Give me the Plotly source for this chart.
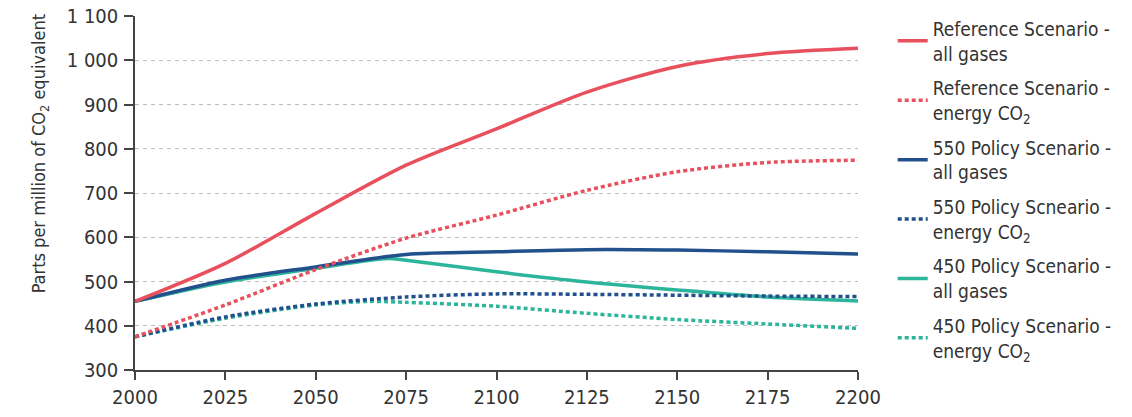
import plotly.graph_objects as go

# Years shown on the horizontal axis (25-year steps)
years = [2000, 2025, 2050, 2075, 2100, 2125, 2150, 2175, 2200]

# Concentrations in ppm CO2-equivalent
ref_all = [455, 541, 654, 763, 845, 928, 986, 1015, 1027]
ref_co2 = [375, 447, 527, 598, 650, 706, 748, 769, 774]
p550_all = [455, 503, 533, 561, 567, 572, 571, 567, 562]
p550_co2 = [375, 420, 449, 465, 472, 471, 469, 467, 466]
p450_years = [2000, 2025, 2050, 2070, 2075, 2100, 2125, 2150, 2175, 2200]
p450_all = [455, 499, 530, 552, 548, 522, 499, 481, 465, 456]
p450_co2_years = [2000, 2025, 2050, 2065, 2075, 2100, 2125, 2150, 2175, 2200]
p450_co2 = [375, 417, 447, 455, 453, 444, 428, 414, 404, 394]

y_ticks = [300, 400, 500, 600, 700, 800, 900, 1000, 1100]
y_tick_text = ["300", "400", "500", "600", "700", "800", "900", "1 000", "1 100"]
x_ticks = [2000, 2025, 2050, 2075, 2100, 2125, 2150, 2175, 2200]

RED = "#e8505d"
BLUE = "#22508d"
TEAL = "#2db59c"
DASH = "4px,3px"

series = [
    ("Reference Scenario -<br>all gases", years, ref_all, RED, "solid"),
    ("Reference Scenario -<br>energy CO<sub>2</sub>", years, ref_co2, RED, DASH),
    ("550 Policy Scenario -<br>all gases", years, p550_all, BLUE, "solid"),
    ("550 Policy Scneario -<br>energy CO<sub>2</sub>", years, p550_co2, BLUE, DASH),
    ("450 Policy Scenario -<br>all gases", p450_years, p450_all, TEAL, "solid"),
    ("450 Policy Scenario -<br>energy CO<sub>2</sub>", p450_co2_years, p450_co2, TEAL, DASH),
]

fig = go.Figure()
# draw order: teal under blue under red
draw_order = [4, 5, 2, 3, 0, 1]
for i in draw_order:
    name, xs, ys, color, dash = series[i]
    fig.add_trace(go.Scatter(
        x=xs, y=ys, name=name, mode="lines",
        line=dict(color=color, width=3.5, dash=dash, shape="spline", smoothing=0.8),
        legendgroup=f"g{i}", legendrank=i,
    ))

FONT = "DejaVu Sans Condensed"
TXT = "#333333"
fig.update_layout(
    width=1132, height=417,
    margin=dict(l=135, r=274, t=16, b=47, autoexpand=False),
    paper_bgcolor="white", plot_bgcolor="white",
    font=dict(family=FONT, size=17, color=TXT),
    showlegend=True,
    legend=dict(
        x=1.048, xanchor="left", y=1.018, yanchor="top",
        font=dict(family=FONT, size=19, color=TXT),
        traceorder="grouped", tracegroupgap=7,
        itemwidth=30, bgcolor="rgba(0,0,0,0)",
        maxheight=417,
    ),
    xaxis=dict(
        range=[2000, 2200], tickvals=x_ticks, showgrid=False, zeroline=False,
        automargin=False,
        showline=True, linecolor="#444444", linewidth=1.5,
        ticks="outside", ticklen=8, tickcolor="#444444", tickwidth=1.5,
        tickfont=dict(family=FONT, size=20, color=TXT),
    ),
    yaxis=dict(
        range=[300, 1100], tickvals=y_ticks, ticktext=y_tick_text,
        automargin=False,
        showgrid=True, gridcolor="#bbbbbb", griddash="4px,4px", gridwidth=1,
        zeroline=False, showline=True, linecolor="#444444", linewidth=1.5,
        ticks="outside", ticklen=9, tickcolor="#444444", tickwidth=1.5,
        ticklabelstandoff=2,
        tickfont=dict(family=FONT, size=20, color=TXT),
    ),
    annotations=[dict(
        text="Parts per million of CO<sub>2</sub> equivalent",
        xref="paper", yref="paper", x=-0.131, y=0.61,
        xanchor="center", yanchor="middle", textangle=-90, showarrow=False,
        font=dict(family=FONT, size=18, color=TXT),
    )],
)

fig.write_html("out.html")
